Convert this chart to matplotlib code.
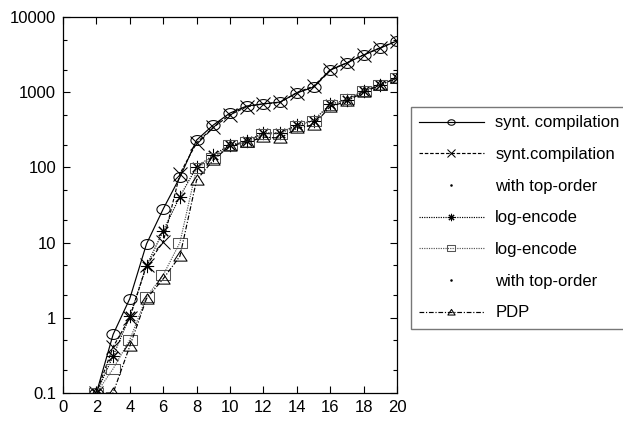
import matplotlib
matplotlib.use("Agg")
import numpy as np
import matplotlib.pyplot as plt
from matplotlib.lines import Line2D
from matplotlib.path import Path
from matplotlib.ticker import LogLocator, FixedLocator, NullFormatter

plt.rcParams['font.family'] = ['Liberation Sans', 'DejaVu Sans']

x = list(range(2, 21))

synt_compilation = [0.1, 0.6, 1.8, 9.6, 28, 74, 231, 366, 528, 655, 700, 740,
                    975, 1170, 1970, 2440, 3130, 3870, 4800]
synt_compilation_top = [0.1, 0.41, 1.0, 5.0, 10.2, 82, 213, 340, 500, 640, 700, 730,
                        990, 1200, 1990, 2460, 3150, 3900, 4850]
log_encode = [0.1, 0.31, 1.05, 4.9, 14.3, 41, 101, 146, 199, 225, 286, 290,
              366, 420, 696, 790, 1040, 1250, 1550]
log_encode_top = [0.1, 0.21, 0.51, 1.9, 3.7, 10, 98, 132, 198, 220, 280, 280,
                  350, 420, 680, 800, 1050, 1260, 1560]
pdp = [0.1, 0.1, 0.42, 1.8, 3.3, 6.6, 68, 125, 195, 215, 253, 245,
       330, 370, 640, 760, 1000, 1250, 1550]

legend_labels = ["synt. compilation", "synt.compilation", "with top-order",
                 "log-encode", "log-encode", "with top-order", "PDP"]

# slightly flattened open markers
t = np.linspace(0, 2 * np.pi, 41)
ellipse = Path(np.column_stack([np.cos(t), 0.75 * np.sin(t)]), closed=True)
flat_square = Path([(-1, -0.8), (1, -0.8), (1, 0.8), (-1, 0.8), (-1, -0.8)], closed=True)
flat_tri = Path([(-1, -0.7), (1, -0.7), (0, 0.85), (-1, -0.7)], closed=True)

fig = plt.figure(figsize=(6.23, 4.21), dpi=100)
ax = fig.add_axes([63 / 623, 28 / 421, 334 / 623, 376 / 421])

ms = 9.5
kw = dict(markerfacecolor='none', markersize=ms, markeredgewidth=0.75)
l1, = ax.plot(x, synt_compilation, color='black', lw=0.85, ls='-', marker=ellipse, **kw)
l2, = ax.plot(x, synt_compilation_top, color='black', lw=0.85, ls=(0, (3, 1.5)),
              marker='x', **kw)
l3, = ax.plot(x, log_encode, color='black', lw=0.85, ls=(0, (1, 1)),
              marker=(8, 2, 0), **kw)
l4, = ax.plot(x, log_encode_top, color='#555555', lw=0.85, ls=(0, (1, 1)),
              marker=flat_square, **kw)
l5, = ax.plot(x, pdp, color='black', lw=0.85, ls=(0, (4, 1.5, 1, 1.5)),
              marker=flat_tri, **kw)

ax.set_yscale('log')
ax.set_xlim(0, 20)
ax.set_ylim(0.1, 10000)
ax.xaxis.set_major_locator(FixedLocator(range(0, 21, 2)))
ax.yaxis.set_major_locator(FixedLocator([0.1, 1, 10, 100, 1000, 10000]))
ax.set_yticklabels(['0.1', '1', '10', '100', '1000', '10000'])
ax.yaxis.set_minor_locator(LogLocator(base=10, subs=(2, 5)))
ax.yaxis.set_minor_formatter(NullFormatter())
ax.tick_params(which='both', direction='in', top=True, right=True,
               labelsize=12, width=0.8, colors='black')
ax.tick_params(which='major', length=5, pad=5)
ax.tick_params(which='minor', length=3)
for s in ax.spines.values():
    s.set_linewidth(0.9)

dot = Line2D([], [], color='black', ls='none', marker='.', markersize=3)
handles = [l1, l2, dot, l3, l4, dot, l5]
leg = fig.legend(handles, legend_labels, loc='upper left',
                 bbox_to_anchor=(411 / 623, 1 - 107 / 421),
                 bbox_transform=fig.transFigure, borderaxespad=0,
                 fontsize=12, handlelength=3.85, handletextpad=0.7,
                 labelspacing=1.0, borderpad=0.5, markerscale=0.55,
                 fancybox=False, frameon=True)
leg.get_frame().set_edgecolor('#555555')
leg.get_frame().set_linewidth(1.0)

fig.savefig('out.png', dpi=100)
